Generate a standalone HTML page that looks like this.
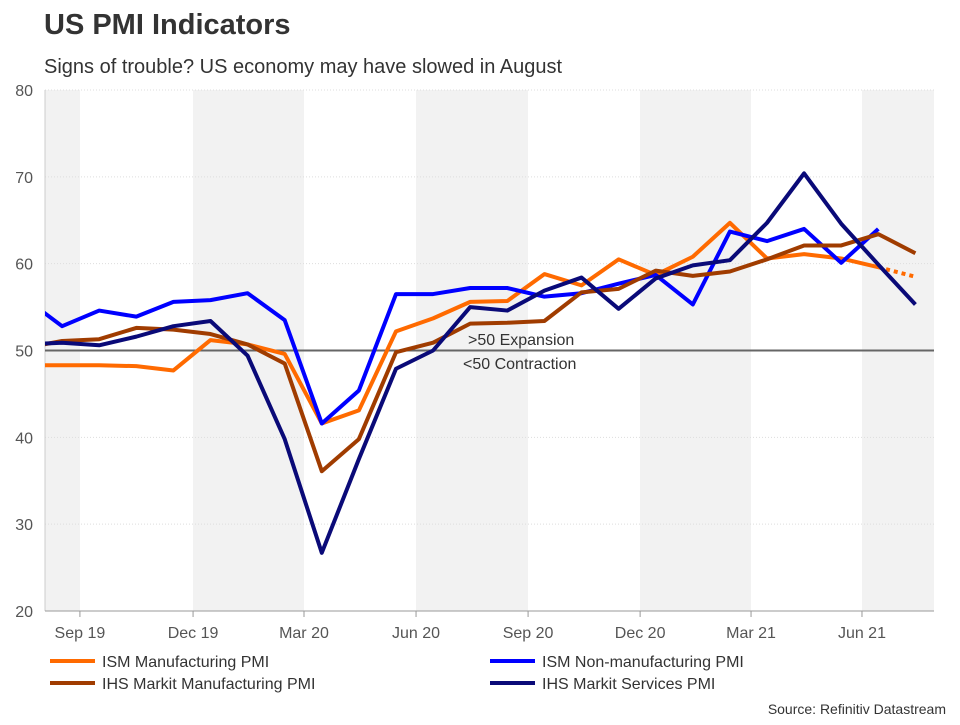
<!DOCTYPE html>
<html><head><meta charset="utf-8"><style>
body{margin:0;background:#fff;font-family:"Liberation Sans",Arial,sans-serif;}
</style></head><body>
<svg id="c" width="960" height="720" xmlns="http://www.w3.org/2000/svg" style="font-family:'Liberation Sans',Arial,sans-serif">
<text x="44" y="34" font-size="29" font-weight="bold" fill="#333">US PMI Indicators</text>
<text x="44" y="73" font-size="20" fill="#333">Signs of trouble? US economy may have slowed in August</text>
<g id="bands"></g><g id="grid"></g><g id="axes"></g>
<defs><clipPath id="clip"><rect x="45" y="80" width="890" height="540"/></clipPath></defs>
<g id="series" clip-path="url(#clip)"></g>
<text x="468" y="345" font-size="16" fill="#333">&gt;50 Expansion</text>
<text x="463" y="369" font-size="16" fill="#333">&lt;50 Contraction</text>
<g id="legend"></g>
<text x="946" y="714" font-size="14" fill="#333" text-anchor="end">Source: Refinitiv Datastream</text>
</svg>
<script>
const months=["Aug 19","Sep 19","Oct 19","Nov 19","Dec 19","Jan 20","Feb 20","Mar 20","Apr 20","May 20","Jun 20","Jul 20","Aug 20","Sep 20","Oct 20","Nov 20","Dec 20","Jan 21","Feb 21","Mar 21","Apr 21","May 21","Jun 21","Jul 21","Aug 21"];
const ismMfg=[48.3,48.3,48.3,48.2,47.7,51.2,50.7,49.6,41.6,43.1,52.2,53.7,55.6,55.7,58.8,57.5,60.5,58.7,60.8,64.7,60.6,61.1,60.6,59.6];
const ismMfgForecast=[59.6,58.5];
const ismNonMfg=[56.0,52.8,54.6,53.9,55.6,55.8,56.6,53.5,41.6,45.4,56.5,56.5,57.2,57.2,56.2,56.6,57.7,58.7,55.3,63.7,62.6,64.0,60.1,64.0];
const ihsMfg=[50.3,51.1,51.3,52.6,52.4,51.9,50.7,48.5,36.1,39.8,49.8,50.9,53.1,53.2,53.4,56.7,57.1,59.2,58.6,59.1,60.5,62.1,62.1,63.4,61.2];
const ihsServ=[50.7,50.9,50.6,51.6,52.8,53.4,49.4,39.8,26.7,37.5,47.9,50.0,55.0,54.6,56.9,58.4,54.8,58.3,59.8,60.4,64.7,70.4,64.6,59.9,55.3];
const yTicks=[20,30,40,50,60,70,80];
const xTickLabels=["Sep 19","Dec 19","Mar 20","Jun 20","Sep 20","Dec 20","Mar 21","Jun 21"];
const xTickMonths=[1.48,4.53,7.52,10.54,13.56,16.58,19.57,22.56];
const NS="http://www.w3.org/2000/svg";
const X=i=>25+37.1*i, Y=v=>611-(v-20)*8.683;
function mk(t,a,p){const e=document.createElementNS(NS,t);for(const k in a)e.setAttribute(k,a[k]);p.appendChild(e);return e;}
const bands=document.getElementById('bands');
[[45,80],[193,304],[416,528],[640,751],[862,934]].forEach((b,i)=>{const r=mk('rect',{x:b[0],y:90,width:b[1]-b[0],height:521,fill:'#f2f2f2'},bands);

});
const grid=document.getElementById('grid');
yTicks.forEach(v=>{const l=mk('line',{x1:45,x2:934,y1:Y(v),y2:Y(v),stroke:'#ddd','stroke-dasharray':'1,2'},grid);


const t=mk('text',{x:33,y:Y(v)+6,'font-size':16,fill:'#555','text-anchor':'end'},grid);t.textContent=v;

});
const axes=document.getElementById('axes');
mk('line',{x1:45,x2:45,y1:90,y2:611,stroke:'#ccc'},axes);
mk('line',{x1:45,x2:934,y1:611,y2:611,stroke:'#999'},axes);
xTickLabels.forEach((s,i)=>{const x=X(xTickMonths[i]);mk('line',{x1:x,x2:x,y1:611,y2:617,stroke:'#999'},axes);
const t=mk('text',{x:x,y:638,'font-size':16,fill:'#555','text-anchor':'middle'},axes);t.textContent=s;

});
const fifty=mk('line',{x1:45,x2:934,y1:Y(50),y2:Y(50),stroke:'#666','stroke-width':2},axes);


const ser=document.getElementById('series');
function line(d,c,name,off,dash){const p=mk('polyline',{points:d.map((v,i)=>X(i+off)+','+Y(v)).join(' '),fill:'none',stroke:c,'stroke-width':4,'stroke-linejoin':'round'},ser);
if(dash)p.setAttribute('stroke-dasharray','4,4');

}
line(ismMfg,'#ff6a00','ism-manufacturing-line',0);
line(ismMfgForecast,'#ff6a00','ism-manufacturing-forecast',23,true);
line(ismNonMfg,'#0000ff','ism-non-manufacturing-line',0);
line(ihsMfg,'#a03c00','ihs-manufacturing-line',0);
line(ihsServ,'#0a0a78','ihs-services-line',0);
const lg=document.getElementById('legend');
[["ISM Manufacturing PMI",'#ff6a00',50,661],["ISM Non-manufacturing PMI",'#0000ff',490,661],["IHS Markit Manufacturing PMI",'#a03c00',50,683],["IHS Markit Services PMI",'#0a0a78',490,683]].forEach(e=>{
const g=mk('g',{},lg);


mk('line',{x1:e[2],x2:e[2]+45,y1:e[3],y2:e[3],stroke:e[1],'stroke-width':4},g);
const t=mk('text',{x:e[2]+52,y:e[3]+6,'font-size':16,fill:'#333'},g);t.textContent=e[0];});
</script>
</body></html>
